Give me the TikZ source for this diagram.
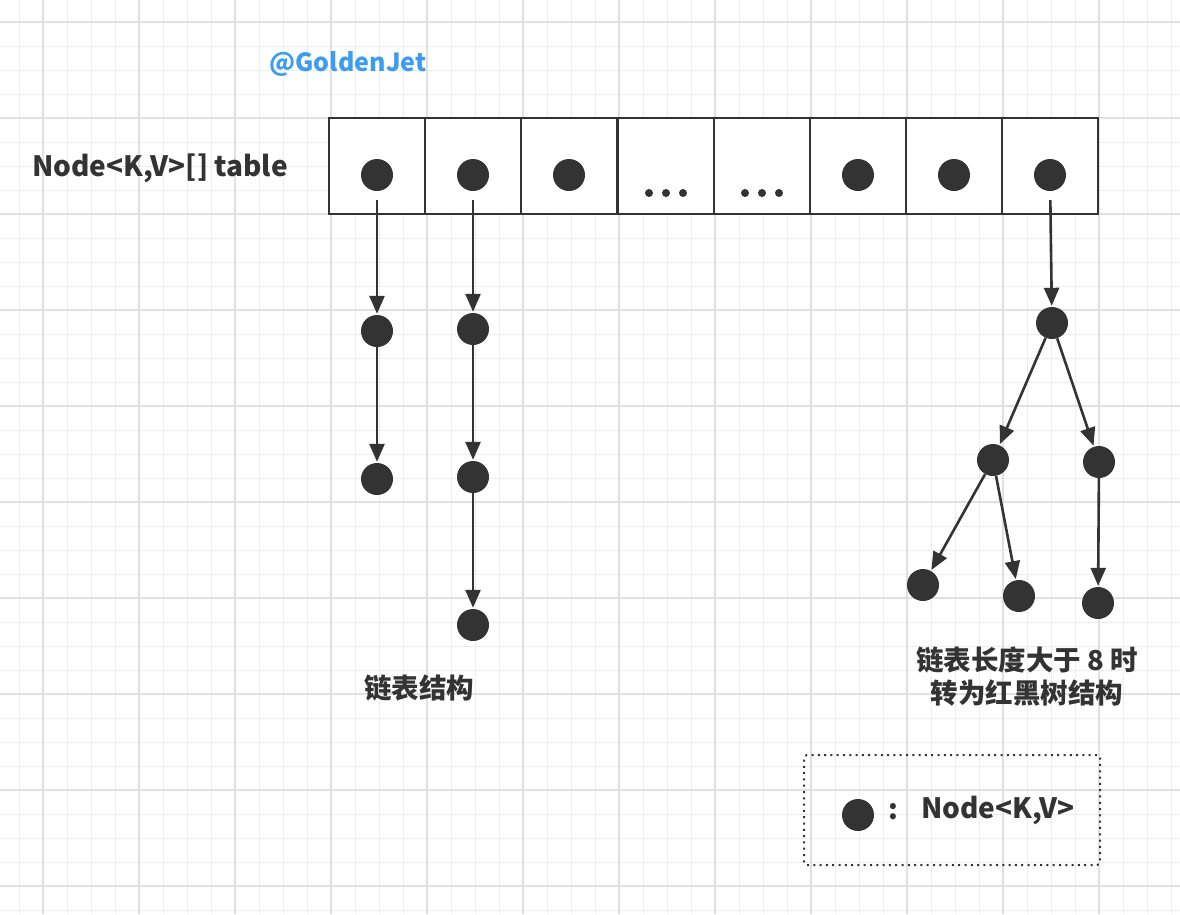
\documentclass[tikz,border=0pt]{standalone}
\usepackage{fontspec}
\setmainfont{Noto Sans CJK SC}
\usetikzlibrary{arrows.meta}
\definecolor{ink}{HTML}{333333}
\definecolor{gridminor}{HTML}{EDEDED}
\definecolor{gridmajor}{HTML}{E0E0E0}
\definecolor{jetblue}{HTML}{3C9CF0}
\tikzset{
  dot/.style={circle,fill=ink,draw=none,minimum size=32pt,inner sep=0pt},
  cellbox/.style={draw=ink,line width=2.4pt,minimum width=96pt,minimum height=96pt,inner sep=0pt,fill=white},
  link/.style={draw=ink,line width=2.6pt,-{Triangle[length=18pt,width=15pt]},shorten >=1pt},
  lbl/.style={text=ink,font=\bfseries\fontsize{27.5}{32}\selectfont,inner sep=0pt},
  latinlbl/.style={text=ink,font=\bfseries\fontsize{28}{32}\selectfont,inner sep=0pt},
  edot/.style={circle,fill=ink,minimum size=8pt,inner sep=0pt},
}
\begin{document}
\begin{tikzpicture}[x=1pt,y=-1pt]
\useasboundingbox (0,0) rectangle (1180,914);
\fill[white] (0,0) rectangle (1180,914);
% grid
\foreach \gx in {19,43,...,1180} \draw[gridminor,line width=1pt] (\gx,0) -- (\gx,914);
\foreach \gy in {-2,22,...,914} \draw[gridminor,line width=1pt] (0,\gy) -- (1180,\gy);
\foreach \gx in {43,139,...,1180} \draw[gridmajor,line width=1.3pt] (\gx,0) -- (\gx,914);
\foreach \gy in {22,118,...,914} \draw[gridmajor,line width=1.3pt] (0,\gy) -- (1180,\gy);

% texts
\node[latinlbl,text=jetblue,font=\bfseries\fontsize{25}{28}\selectfont] (author) at (348,64) {@GoldenJet};
\node[latinlbl,anchor=west] (tablelbl) at (32,168) {Node<K,V>[] table};

% table cells
\foreach \i/\cx in {1/377,2/473,3/569,4/666,5/762,6/858,7/954,8/1050}
  \node[cellbox] (c\i) at (\cx,166) {};
\foreach \i/\cx in {1/377,2/473,3/569,6/858,7/954,8/1050}
  \node[dot] (t\i) at (\cx,175) {};
\foreach \i/\cx in {4/666,5/762}{
  \node[edot] (e\i a) at (\cx-17,193) {};
  \node[edot] (e\i b) at (\cx,193) {};
  \node[edot] (e\i c) at (\cx+17,193) {};
}

% chain 1
\node[dot] (a1) at (377,331) {};
\node[dot] (a2) at (377,479) {};
% chain 2
\node[dot] (b1) at (473,329) {};
\node[dot] (b2) at (473,477) {};
\node[dot] (b3) at (473,625) {};
% tree
\node[dot] (r) at (1052,323) {};
\node[dot] (rl) at (993,460) {};
\node[dot] (rr) at (1099,462) {};
\node[dot] (rll) at (923,585) {};
\node[dot] (rlr) at (1019,596) {};
\node[dot] (rrl) at (1098,603) {};

\draw[link,shorten <=9pt] (t1) -- (a1);
\draw[link] (a1) -- (a2);
\draw[link,shorten <=9pt] (t2) -- (b1);
\draw[link] (b1) -- (b2);
\draw[link] (b2) -- (b3);
\draw[link,shorten <=9pt] (t8) -- (r);
\draw[link] (r) -- (rl);
\draw[link] (r) -- (rr);
\draw[link] (rl) -- (rll);
\draw[link] (rl) -- (rlr);
\draw[link] (rr) -- (rrl);

\node[lbl] (listlbl) at (419,688) {链表结构};
\node[lbl] (treelbl1) at (1027,660) {链表长度大于 8 时};
\node[lbl] (treelbl2) at (1027,693) {转为红黑树结构};

% legend
\node[draw=ink,line width=2pt,dash pattern=on 2pt off 4.3pt,rounded corners=3pt,
      minimum width=296pt,minimum height=110pt,inner sep=0pt] (legend) at (952,810) {};
\node[dot] (ldot) at (858,815) {};
\node[latinlbl] (lcolon) at (893,812) {:};
\node[latinlbl,anchor=west] (ltext) at (921,810) {Node<K,V>};
\end{tikzpicture}
\end{document}
